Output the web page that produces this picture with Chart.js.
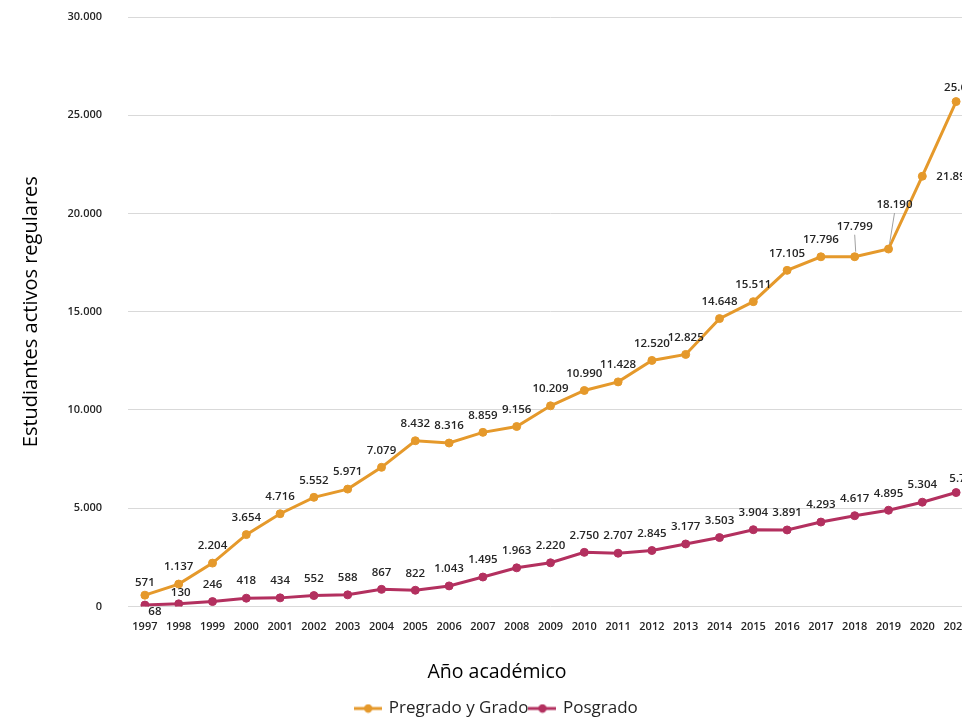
<!DOCTYPE html>
<html>
<head>
<meta charset="utf-8">
<script src="https://cdn.jsdelivr.net/npm/chart.js@4.4.1/dist/chart.umd.min.js"></script>
<style>
html,body{margin:0;padding:0;background:#ffffff;overflow:hidden;}
#wrap{width:962px;height:717px;overflow:hidden;position:relative;background:#ffffff;}
canvas{display:block;}
</style>
</head>
<body>
<div id="wrap"><canvas id="c" width="990" height="727"></canvas></div>
<script>
// ---- data ----
const years = ['1997','1998','1999','2000','2001','2002','2003','2004','2005','2006','2007','2008','2009','2010','2011','2012','2013','2014','2015','2016','2017','2018','2019','2020','2021'];
const pregrado = [571, 1137, 2204, 3654, 4716, 5552, 5971, 7079, 8432, 8316, 8859, 9156, 10209, 10990, 11428, 12520, 12825, 14648, 15511, 17105, 17796, 17799, 18190, 21895, 25695];
const posgrado = [68, 130, 246, 418, 434, 552, 588, 867, 822, 1043, 1495, 1963, 2220, 2750, 2707, 2845, 3177, 3503, 3904, 3891, 4293, 4617, 4895, 5304, 5795];
const yTickValues = [0, 5000, 10000, 15000, 20000, 25000, 30000];
const seriesNames = ['Pregrado y Grado', 'Posgrado'];

// ---- styling ----
const FONT = '"Open Sans", "Noto Sans", sans-serif';
const COLORS = ['#E5992B', '#B3305F'];
const TEXT = '#252525';

function fmt(v){ return String(v).replace(/\B(?=(\d{3})+(?!\d))/g, '.'); }

function legendIcon(color){
  const c = document.createElement('canvas');
  c.width = 28; c.height = 10;
  const g = c.getContext('2d');
  g.strokeStyle = color; g.lineWidth = 3;
  g.beginPath(); g.moveTo(0, 5); g.lineTo(28, 5); g.stroke();
  g.fillStyle = color;
  g.beginPath(); g.arc(14, 5, 4.2, 0, Math.PI * 2); g.fill();
  return c;
}
const icons = COLORS.map(legendIcon);

const valueLabels = {
  id: 'valueLabels',
  afterDatasetsDraw(chart, args, opts) {
    const ctx = chart.ctx;
    ctx.save();
    ctx.font = opts.font;
    ctx.textBaseline = 'middle';
    chart.data.datasets.forEach((ds, di) => {
      const meta = chart.getDatasetMeta(di);
      meta.data.forEach((pt, i) => {
        const o = ((opts.overrides[di] || {})[i]) || {};
        const dx = o.dx !== undefined ? o.dx : 0;
        const dy = o.dy !== undefined ? o.dy : opts.offset;
        const lx = pt.x + dx, ly = pt.y + dy;
        if (o.leader) {
          ctx.strokeStyle = '#a0a0a0';
          ctx.lineWidth = 1;
          ctx.beginPath();
          ctx.moveTo(pt.x + 1, pt.y - 5);
          ctx.lineTo(lx + (o.leaderDx || 0), ly + 8);
          ctx.stroke();
        }
        ctx.fillStyle = opts.color;
        ctx.textAlign = o.align || 'center';
        ctx.fillText(fmt(ds.data[i]), lx, ly);
      });
    });
    ctx.restore();
  }
};

new Chart(document.getElementById('c'), {
  type: 'line',
  data: {
    labels: years,
    datasets: [pregrado, posgrado].map((d, i) => ({
      label: seriesNames[i],
      data: d,
      borderColor: COLORS[i],
      backgroundColor: COLORS[i],
      pointBackgroundColor: COLORS[i],
      pointBorderColor: COLORS[i],
      borderWidth: 3,
      pointRadius: 4,
      pointBorderWidth: 1,
      tension: 0,
      fill: false
    }))
  },
  options: {
    responsive: false,
    animation: false,
    layout: { padding: { left: 21, right: 17, top: 17, bottom: 0 } },
    scales: {
      x: {
        offset: true,
        grid: { display: false, drawTicks: false },
        border: { display: false },
        ticks: { autoSkip: false, maxRotation: 0, padding: 14, color: TEXT, font: { family: FONT, size: 11, weight: '600' } }
      },
      y: {
        min: 0, max: 30000,
        afterBuildTicks(scale) { scale.ticks = yTickValues.map(v => ({ value: v })); },
        afterFit(scale) { scale.width = 107; scale.paddingTop = 0; },
        grid: { color: '#d9d9d9', lineWidth: 1, drawTicks: false },
        border: { display: false },
        ticks: { padding: 26, color: TEXT, font: { family: FONT, size: 11, weight: '600' }, callback: v => fmt(v) },
        title: { display: true, text: 'Estudiantes activos regulares', color: '#000', font: { family: FONT, size: 20, weight: 'normal' }, padding: { top: -2, bottom: 0 } }
      }
    },
    plugins: {
      tooltip: { enabled: false },
      title: {
        display: true, text: 'Año académico', position: 'bottom', weight: 500,
        color: '#000', font: { family: FONT, size: 19.5, weight: 'normal' },
        padding: { top: 13, bottom: 14 }
      },
      legend: {
        position: 'bottom',
        labels: {
          usePointStyle: true, pointStyleWidth: 24, padding: 2,
          color: TEXT, font: { family: FONT, size: 17 },
          generateLabels(chart) {
            const items = Chart.defaults.plugins.legend.labels.generateLabels(chart);
            items.forEach((it, i) => { it.pointStyle = icons[i]; });
            return items;
          }
        }
      },
      valueLabels: {
        font: '600 11.5px ' + FONT,
        color: TEXT,
        offset: -17,
        overrides: {
          0: { 0: { dy: -12 }, 21: { dy: -30, leader: true }, 22: { dx: 6, dy: -44, leader: true }, 23: { dx: 14, dy: 0, align: 'left' }, 24: { dx: 6, dy: -14 } },
          1: { 0: { dx: 10, dy: 7 }, 1: { dx: 2, dy: -11 }, 24: { dx: 8, dy: -14 } }
        }
      }
    }
  },
  plugins: [valueLabels]
});
</script>
</body>
</html>
